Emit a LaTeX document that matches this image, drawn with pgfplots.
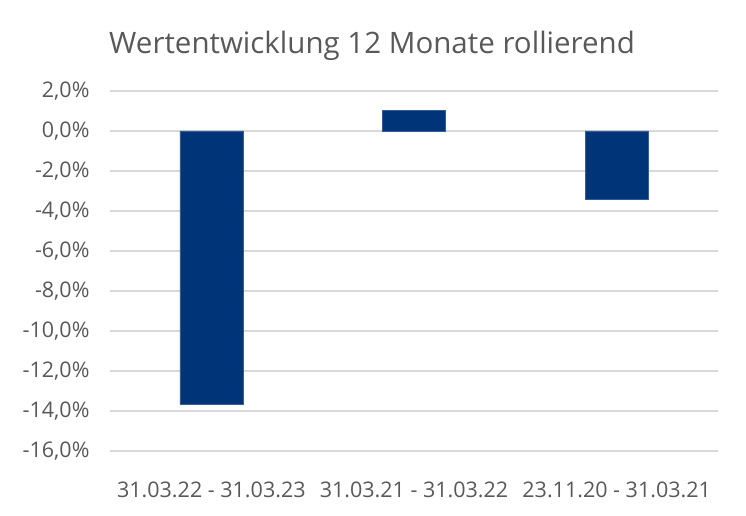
\documentclass[border=0pt]{standalone}
\usepackage{pgfplots}
\pgfplotsset{compat=1.18}
\usepackage{fontspec}
\setmainfont{Open Sans}
\definecolor{barblue}{HTML}{003478}
\definecolor{txtgray}{HTML}{595959}
\definecolor{gridgray}{HTML}{D9D9D9}
\begin{document}
\begin{tikzpicture}
\path[use as bounding box] (-110bp,-65bp) rectangle (636bp,451bp);
\begin{axis}[
  at={(0,0)}, anchor=south west,
  scale only axis,
  width=608bp, height=360bp,
  xmin=-0.5, xmax=2.5,
  ymin=-16, ymax=2,
  ytick={-16,-14,...,2},
  xtick=data,
  xticklabels={31.03.22 - 31.03.23, 31.03.21 - 31.03.22, 23.11.20 - 31.03.21},
  axis line style={draw=none},
  major tick length=0pt,
  ymajorgrids,
  grid style={gridgray, line width=1.3bp},
  /pgf/number format/assume math mode=true,
  yticklabel={\pgfmathprintnumber[fixed,fixed zerofill,precision=1,use comma]{\tick}\%},
  ticklabel style={font=\fontsize{21.5bp}{24bp}\selectfont, text=txtgray},
  yticklabel style={anchor=east, xshift=-17bp},
  xticklabel style={anchor=center, yshift=-39bp},
  title={Wertentwicklung 12 Monate rollierend},
  title style={at={(axis description cs:0.431,1.108)}, anchor=center, font=\fontsize{29.5bp}{32bp}\selectfont, text=txtgray},
  ybar, bar width=63bp,
]
\addplot[fill=barblue, draw=barblue!80!white, line width=0.5bp] coordinates {(0,-13.65) (1,1.02) (2,-3.42)};
\end{axis}
\end{tikzpicture}
\end{document}
